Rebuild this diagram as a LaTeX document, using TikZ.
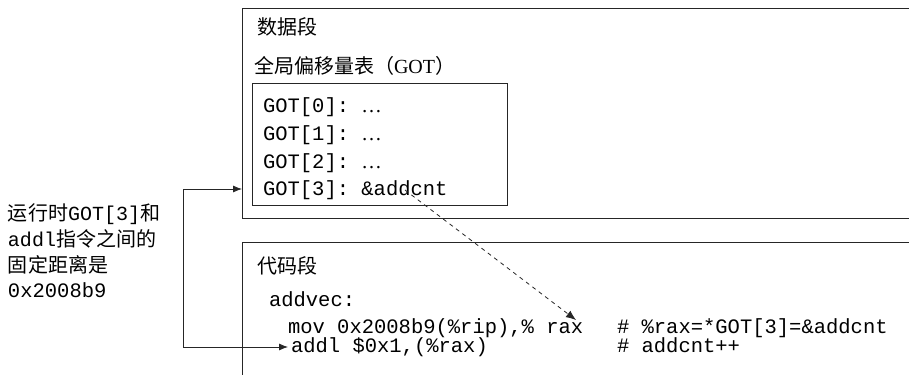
\documentclass[tikz,border=0pt]{standalone}
\usepackage{fontspec}
\setmainfont{Liberation Serif}
\setmonofont{Liberation Mono}
\newfontfamily\cjk{Noto Sans CJK SC}
\usetikzlibrary{arrows.meta}
\begin{document}
\begin{tikzpicture}[x=1pt,y=-1pt,
  every node/.style={inner sep=0pt, outer sep=0pt, anchor=base west},
  box/.style={draw=black!85, line width=0.9pt},
  code/.style={font=\fontsize{20.5}{24}\selectfont\ttfamily},
  zh/.style={font=\fontsize{20}{24}\selectfont\cjk},
  mix/.style={font=\fontsize{20}{24}\selectfont},
  arr/.style={-{Latex[length=9pt,width=7pt]}, line width=0.8pt, draw=black!85},
  darr/.style={-{Latex[length=10pt,width=8pt]}, line width=0.8pt, draw=black!85, dash pattern=on 4pt off 4pt}]
\useasboundingbox (0,0) rectangle (909,375);
\fill[white] (0,0) rectangle (909,375);
% data segment (open on the right)
\draw[box] (909,8) -- (242,8) -- (242,218) -- (909,218);
\coordinate (dleft) at (242,189);
% GOT table box
\draw[box] (252,83) rectangle (507,205);
% code segment (open right and bottom)
\draw[box] (909,242) -- (242,242) -- (242,375);

\node[zh] (dseg) at (257,34.5) {数据段};
\node[mix] (gottitle) at (254,73) {{\cjk 全局偏移量表（}GOT{\cjk ）}};
\node[code] (g0) at (263,112) {GOT[0]: {\rmfamily …}};
\node[code] (g1) at (263,140) {GOT[1]: {\rmfamily …}};
\node[code] (g2) at (263,168) {GOT[2]: {\rmfamily …}};
\node[code] (g3) at (263,195) {GOT[3]: \&addcnt};

\node[zh] (cseg) at (257,273) {代码段};
\node[code] (addvec) at (269,306) {addvec:};
\node[code] (mov) at (288,333) {mov 0x2008b9(\%rip),\% rax};
\node[code] (add) at (291,352) {addl \$0x1,(\%rax)};
\node[code] (c1) at (617,333) {\# \%rax=*GOT[3]=\&addcnt};
\node[code] (c2) at (617,352) {\# addcnt++};

\node[mix] (l1) at (8,220) {{\cjk 运行时}{\ttfamily GOT[3]}{\cjk 和}};
\node[mix] (l2) at (8,246) {{\ttfamily addl}{\cjk 指令之间的}};
\node[zh] (l3) at (8,272) {固定距离是};
\node[code] (l4) at (8,297) {0x2008b9};

% connectors
\coordinate (gotsrc) at (405,190);
\coordinate (raxtip) at (576,320);
\coordinate (addtip) at (288,347);
\coordinate (vtop) at (183,189);
\coordinate (vbot) at (183,347);
\draw[arr] (vbot) -- (vtop) -- (dleft);
\draw[arr] (vtop) -- (vbot) -- (addtip);
\draw[darr] (gotsrc) -- (raxtip);
\end{tikzpicture}
\end{document}
